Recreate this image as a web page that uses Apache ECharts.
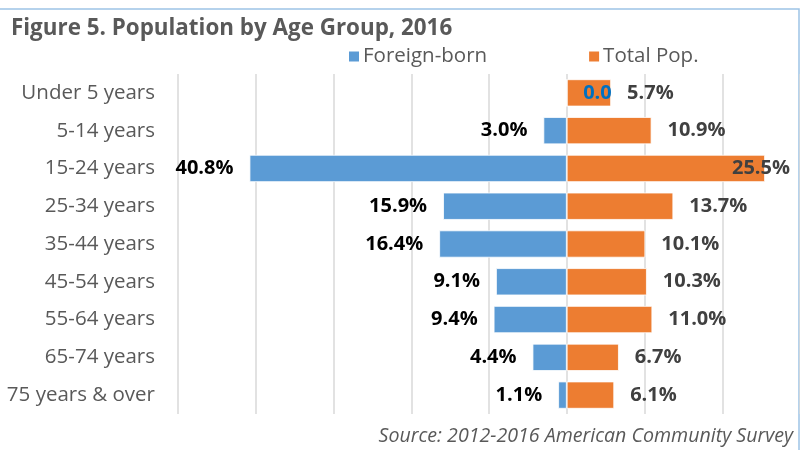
<!DOCTYPE html>
<html>
<head>
<meta charset="utf-8">
<script src="https://cdn.jsdelivr.net/npm/echarts@6/dist/echarts.min.js"></script>
<style>
  html, body { margin: 0; padding: 0; background: #fff; }
  #chart { width: 800px; height: 450px; }
</style>
</head>
<body>
<div id="chart"></div>
<script>
// Age groups, top to bottom
const ageGroups = ['Under 5 years', '5-14 years', '15-24 years', '25-34 years', '35-44 years',
  '45-54 years', '55-64 years', '65-74 years', '75 years & over'];

// Percent shares
const foreignBorn = [0.0, 3.0, 40.8, 15.9, 16.4, 9.1, 9.4, 4.4, 1.1];
const totalPop = [5.7, 10.9, 25.5, 13.7, 10.1, 10.3, 11.0, 6.7, 6.1];

const FONT = '"Open Sans", sans-serif';
const GREY = '#595959';
const BLUE = '#5b9bd5';
const ORANGE = '#ed7d31';

const chart = echarts.init(document.getElementById('chart'));

// Foreign-born bars go to the left, so plot them as negatives
const foreignData = foreignBorn.map(v => {
  const item = { value: -v };
  // the zero value gets its label on the right, in blue, like the original
  if (v === 0) {
    item.label = { position: 'right', color: '#0070c0', formatter: '0.0' };
  }
  return item;
});

const totalData = totalPop.map(v => {
  const item = { value: v };
  // the longest bar's label does not fit outside, pull it back in
  if (v === Math.max(...totalPop)) {
    item.label = { position: 'insideRight', offset: [41, 0] };
  }
  return item;
});

const option = {
  backgroundColor: '#fff',
  textStyle: { fontFamily: FONT },
  animation: false,

  title: {
    text: 'Figure 5. Population by Age Group, 2016',
    left: 6,
    top: 13,
    textStyle: { color: GREY, fontSize: 22.4, fontWeight: 'bold', fontFamily: FONT }
  },

  legend: {
    data: ['Foreign-born', 'Total Pop.'],
    left: 342,
    top: 41,
    itemWidth: 12,
    itemHeight: 12,
    itemGap: 100,
    icon: 'rect',
    textStyle: { color: GREY, fontSize: 20.5, fontFamily: FONT, padding: [0, 0, 0, -2] }
  },

  graphic: [
    {
      type: 'rect',
      shape: { x: -5, y: 9, width: 804, height: 460 },
      style: { fill: 'none', stroke: '#9dc3e6', lineWidth: 1.5 },
      silent: true
    },
    {
      type: 'text',
      right: 7,
      bottom: 4,
      style: {
        text: 'Source: 2012-2016 American Community Survey',
        fill: GREY,
        font: 'italic 19.6px ' + FONT
      }
    }
  ],

  grid: { left: 178, right: 0, top: 74, bottom: 36 },

  xAxis: {
    type: 'value',
    min: -50,
    max: 30,
    interval: 10,
    axisLabel: { show: false },
    axisLine: { show: false },
    axisTick: { show: false },
    splitLine: { lineStyle: { color: '#d9d9d9', width: 1.5 } }
  },

  yAxis: {
    type: 'category',
    data: ageGroups,
    inverse: true,
    axisLine: { show: false },
    axisTick: { show: false },
    axisLabel: { color: GREY, fontSize: 20.5, margin: 23, fontFamily: FONT }
  },

  series: [
    {
      name: 'Total Pop.',
      type: 'bar',
      data: totalData,
      barGap: '-100%',
      barCategoryGap: '28%',
      itemStyle: { color: ORANGE, borderColor: '#fff', borderWidth: 0.8 },
      label: {
        show: true,
        position: 'right',
        distance: 16,
        color: '#404040',
        fontSize: 20,
        fontWeight: 'bold',
        fontFamily: FONT,
        formatter: p => p.value.toFixed(1) + '%'
      }
    },
    {
      name: 'Foreign-born',
      type: 'bar',
      data: foreignData,
      barGap: '-100%',
      barCategoryGap: '28%',
      itemStyle: { color: BLUE, borderColor: '#fff', borderWidth: 0.8 },
      label: {
        show: true,
        position: 'left',
        distance: 16,
        color: '#000',
        fontSize: 20,
        fontWeight: 'bold',
        fontFamily: FONT,
        formatter: p => Math.abs(p.value).toFixed(1) + '%'
      }
    }
  ]
};

chart.setOption(option);
</script>
</body>
</html>
